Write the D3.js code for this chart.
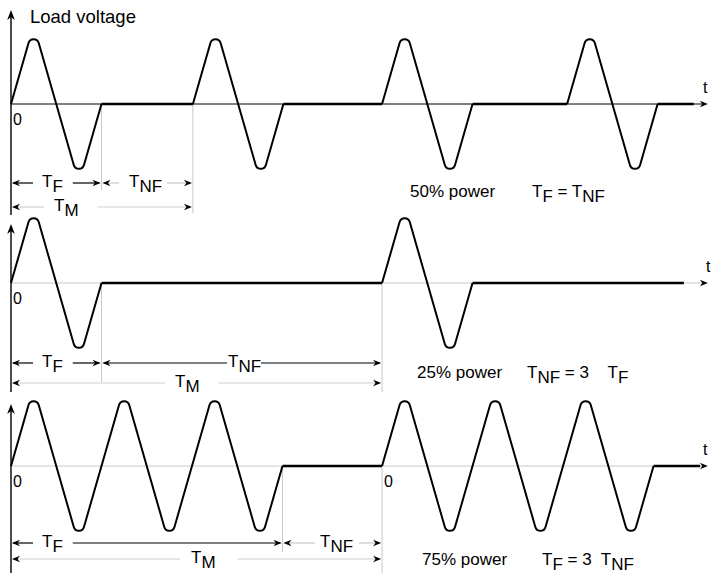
<!DOCTYPE html>
<html>
<head>
<meta charset="utf-8">
<script src="https://cdn.jsdelivr.net/npm/d3@7"></script>
<style>
body { margin: 0; background: #fff; }
svg { display: block; font-family: "Liberation Sans", Arial, sans-serif; }
</style>
</head>
<body>
<svg id="chart"></svg>
<script>
const width = 711
const height = 573
const cycleMs = 20

// burst start times (ms) and number of full cycles in each burst
const bursts50 = [0, 40.2, 82, 122.9]
const cycles50 = [1, 1, 1, 1]
const bursts25 = [0, 82]
const cycles25 = [1, 1]
const bursts75 = [0, 82]
const cycles75 = [3, 3]
const traceEnd = [150.9, 148.7, 152.3]
const axisEnd = 154

const powerLabels = ["50% power", "25% power", "75% power"]
const ratioLabels = ["T_{F} = T_{NF}", "T_{NF} = 3    T_{F}", "T_{F} = 3  T_{NF}"]
const zeroLabels = [[0], [0], [0, 82]]

const xScale = d3.scaleLinear()
    .domain([0, 155])
    .range([11, 11 + 155 * 4.525])

const radius = 5.3

// layout of the three strips
const panels = [
    {bursts: bursts50, cycles: cycles50, base: 104, axisTop: 10, axisBottom: 215, baseColor: "#000",
     rowF: 183, rowM: 207, tickBottoms: [190, 213], textY: 197, powerX: 410, ratioX: 532, tX: 703,
     tf: {x: 42, padL: 9, padR: 10, color: "#000"},
     tnf: {x: 129, padL: 10, padR: 5, color: "#c8c8c8"},
     tm: {x: 54, padL: 10, padR: 19, color: "#d0d0d0"}},
    {bursts: bursts25, cycles: cycles25, base: 283, axisTop: 224, axisBottom: 392, baseColor: "#c8c8c8",
     rowF: 363, rowM: 383, tickBottoms: [382, 392], textY: 378, powerX: 417, ratioX: 527, tX: 706,
     tf: {x: 42, padL: 9, padR: 10, color: "#000"},
     tnf: {x: 228, padL: 1, padR: 0, color: "#000"},
     tm: {x: 175, padL: 10, padR: 19, color: "#d0d0d0"}},
    {bursts: bursts75, cycles: cycles75, base: 466, axisTop: 404, axisBottom: 573, baseColor: "#c8c8c8",
     rowF: 543, rowM: 559, tickBottoms: [552, 573], textY: 565, powerX: 422, ratioX: 542, tX: 703,
     tf: {x: 42, padL: 9, padR: 10, color: "#000"},
     tnf: {x: 320, padL: 5, padR: 6, color: "#c8c8c8"},
     tm: {x: 191, padL: 11, padR: 22, color: "#d0d0d0"}}
]

const svg = d3.select("#chart")
    .attr("width", width)
    .attr("height", height)
    .attr("viewBox", `0 0 ${width} ${height}`)

svg.append("rect").attr("width", width).attr("height", height).attr("fill", "#fff")

const arrowHead = (g, x, y, dx, dy, len, half, notch) => {
    // dx, dy: unit direction the arrow points to
    const px = -dy, py = dx
    const p = d3.path()
    p.moveTo(x, y)
    p.lineTo(x - dx * len + px * half, y - dy * len + py * half)
    p.lineTo(x - dx * (len - notch), y - dy * (len - notch))
    p.lineTo(x - dx * len - px * half, y - dy * len - py * half)
    p.closePath()
    g.append("path").attr("d", p.toString()).attr("fill", "#000")
}

const richText = (g, str, x, y, size) => {
    const t = g.append("text")
        .attr("x", x)
        .attr("y", y)
        .attr("xml:space", "preserve")
        .style("white-space", "pre")
        .style("font-size", size + "px")
        .attr("fill", "#000")
    let sub = false
    str.split(/(_\{[^}]*\})/).filter(s => s.length).forEach(part => {
        const m = part.match(/^_\{(.*)\}$/)
        if (m) {
            t.append("tspan").attr("dy", 5.2).text(m[1])
            sub = true
        } else {
            t.append("tspan").attr("dy", sub ? -5.2 : 0).text(part)
            sub = false
        }
    })
    return t
}

const dimension = (g, x1, x2, y, label, opt) => {
    const t = richText(g, label, opt.x, y + 3.5, 17)
    const w = t.node().getComputedTextLength()
    const a = opt.x - opt.padL
    const b = opt.x + w + opt.padR
    g.append("line").attr("x1", x1 + 2).attr("x2", a).attr("y1", y).attr("y2", y)
        .attr("stroke", opt.color).attr("stroke-width", 1.2)
    g.append("line").attr("x1", b).attr("x2", x2 - 2).attr("y1", y).attr("y2", y)
        .attr("stroke", opt.color).attr("stroke-width", 1.2)
    arrowHead(g, x1 + 1, y, -1, 0, 8, 3.2, 2.5)
    arrowHead(g, x2 - 1, y, 1, 0, 8, 3.2, 2.5)
}

const burstPath = (t0, n, yScale) => {
    const pts = [[t0, 0]]
    for (let k = 0; k < n; k++) {
        pts.push([t0 + (k + 0.25) * cycleMs, 1])
        pts.push([t0 + (k + 0.75) * cycleMs, -1])
    }
    pts.push([t0 + n * cycleMs, 0])
    const P = pts.map(([t, v]) => [xScale(t), yScale(v)])
    const p = d3.path()
    p.moveTo(P[0][0], P[0][1])
    for (let i = 1; i < P.length - 1; i++) {
        p.arcTo(P[i][0], P[i][1], P[i + 1][0], P[i + 1][1], radius)
    }
    p.lineTo(P[P.length - 1][0], P[P.length - 1][1])
    return p.toString()
}

panels.forEach((pan, idx) => {
    const g = svg.append("g").attr("class", "panel")
    const yScale = d3.scaleLinear()
        .domain([-1, 1])
        .range([pan.base + 78.7, pan.base - 78.7])

    const firstEnd = pan.bursts[0] + pan.cycles[0] * cycleMs
    const second = pan.bursts[1]

    // gray guide lines at the end of first burst and start of second
    ;[firstEnd, second].forEach((t, i) => {
        g.append("line")
            .attr("x1", xScale(t)).attr("x2", xScale(t))
            .attr("y1", pan.base).attr("y2", pan.tickBottoms[i])
            .attr("stroke", "#c8c8c8").attr("stroke-width", 1)
    })

    // time axis
    g.append("line")
        .attr("x1", xScale(0)).attr("x2", xScale(axisEnd) - 4)
        .attr("y1", pan.base).attr("y2", pan.base)
        .attr("stroke", pan.baseColor).attr("stroke-width", 1)
    arrowHead(g, xScale(axisEnd), pan.base, 1, 0, 8, 3.2, 2.5)

    // voltage axis
    g.append("line")
        .attr("x1", xScale(0)).attr("x2", xScale(0))
        .attr("y1", pan.axisTop + 4).attr("y2", pan.axisBottom)
        .attr("stroke", "#000").attr("stroke-width", 1.4)
    arrowHead(g, xScale(0), pan.axisTop, 0, -1, 10, 3.8, 3)

    // off periods
    pan.bursts.forEach((t0, i) => {
        const endT = t0 + pan.cycles[i] * cycleMs
        const nextT = i < pan.bursts.length - 1 ? pan.bursts[i + 1] : traceEnd[idx]
        g.append("line")
            .attr("x1", xScale(endT)).attr("x2", xScale(nextT))
            .attr("y1", yScale(0)).attr("y2", yScale(0))
            .attr("stroke", "#000").attr("stroke-width", 2.5)
    })

    // bursts
    g.selectAll("path.burst")
        .data(pan.bursts)
        .enter()
        .append("path")
        .attr("class", "burst")
        .attr("d", (d, i) => burstPath(d, pan.cycles[i], yScale))
        .attr("fill", "none")
        .attr("stroke", "#000")
        .attr("stroke-width", 2)
        .attr("stroke-linejoin", "round")

    // zero labels
    zeroLabels[idx].forEach(t => {
        g.append("text")
            .attr("x", xScale(t) + 2)
            .attr("y", pan.base + 21)
            .style("font-size", "16px")
            .text("0")
    })

    g.append("text")
        .attr("x", pan.tX)
        .attr("y", pan.base - 11)
        .style("font-size", "16px")
        .text("t")

    dimension(g, xScale(0), xScale(firstEnd), pan.rowF, "T_{F}", pan.tf)
    dimension(g, xScale(firstEnd), xScale(second), pan.rowF, "T_{NF}", pan.tnf)
    dimension(g, xScale(0), xScale(second), pan.rowM, "T_{M}", pan.tm)

    richText(g, powerLabels[idx], pan.powerX, pan.textY, 17)
    richText(g, ratioLabels[idx], pan.ratioX, pan.textY, 17)
})

svg.append("text")
    .attr("x", 30)
    .attr("y", 23)
    .style("font-size", "18.5px")
    .text("Load voltage")
</script>
</body>
</html>
